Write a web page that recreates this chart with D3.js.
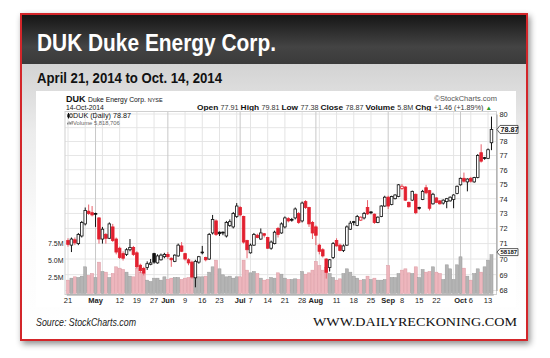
<!DOCTYPE html>
<html><head><meta charset="utf-8">
<script src="https://cdn.jsdelivr.net/npm/d3@7"></script>
<style>
html,body{margin:0;padding:0;background:#fff;}
svg{display:block;}
text{font-family:"Liberation Sans",Arial,sans-serif;}
</style></head>
<body>
<svg id="c" width="550" height="358"></svg>
<script>
// ---------- DATA ----------
const tradingDays = [
 "04-21","04-22","04-23","04-24","04-25","04-28","04-29","04-30",
 "05-01","05-02","05-05","05-06","05-07","05-08","05-09","05-12","05-13","05-14","05-15","05-16","05-19","05-20","05-21","05-22","05-23","05-27","05-28","05-29","05-30",
 "06-02","06-03","06-04","06-05","06-06","06-09","06-10","06-11","06-12","06-13","06-16","06-17","06-18","06-19","06-20","06-23","06-24","06-25","06-26","06-27","06-30",
 "07-01","07-02","07-03","07-07","07-08","07-09","07-10","07-11","07-14","07-15","07-16","07-17","07-18","07-21","07-22","07-23","07-24","07-25","07-28","07-29","07-30","07-31",
 "08-01","08-04","08-05","08-06","08-07","08-08","08-11","08-12","08-13","08-14","08-15","08-18","08-19","08-20","08-21","08-22","08-25","08-26","08-27","08-28","08-29",
 "09-02","09-03","09-04","09-05","09-08","09-09","09-10","09-11","09-12","09-15","09-16","09-17","09-18","09-19","09-22","09-23","09-24","09-25","09-26","09-29","09-30",
 "10-01","10-02","10-03","10-06","10-07","10-08","10-09","10-10","10-13","10-14"];
const opens = [71.20,70.90,71.25,71.00,71.50,72.30,73.15,73.05,73.00,72.70,71.30,71.60,71.35,72.10,71.30,70.70,70.35,70.30,70.60,70.75,70.40,69.60,69.40,69.45,69.66,70.35,69.75,69.95,70.15,
 70.30,70.05,69.85,70.20,70.85,70.35,69.95,69.80,68.80,69.80,70.45,70.10,70.00,71.70,72.50,71.75,71.75,71.50,72.20,72.10,72.80,
 73.40,72.80,71.20,70.40,70.90,71.55,71.30,71.65,71.40,70.70,71.00,72.00,71.70,72.10,72.65,72.60,72.70,73.00,72.50,73.80,73.40,72.40,
 72.10,70.90,70.60,70.00,69.45,70.10,71.20,70.90,70.55,70.90,71.95,72.45,72.20,72.55,72.70,73.40,73.10,72.95,72.40,72.80,73.50,
 74.10,73.60,74.00,74.15,74.70,74.80,73.75,73.90,74.30,73.40,73.95,74.75,74.55,73.65,74.05,73.85,73.70,73.80,73.85,73.95,74.35,
 74.95,75.40,75.15,75.40,75.15,75.45,77.20,76.85,76.80,77.91];
const highs = [71.35,71.40,71.40,71.70,72.50,73.40,73.60,73.50,73.05,72.75,72.10,71.70,72.40,72.30,71.40,70.80,70.50,70.70,71.30,70.85,70.50,69.70,69.50,69.85,70.00,70.40,70.30,70.35,70.40,
 70.45,70.10,70.30,71.00,71.10,70.40,70.05,69.90,69.95,70.20,70.85,70.15,71.70,72.90,72.60,71.80,71.80,72.50,72.60,73.10,73.70,
 73.50,72.85,71.25,71.00,71.70,71.65,72.00,71.70,71.45,71.20,71.85,72.10,72.40,72.80,72.75,72.70,73.40,73.10,73.80,73.90,73.45,72.50,
 72.20,71.00,70.70,70.05,70.00,71.10,71.35,71.00,70.95,72.20,72.50,72.50,72.90,72.80,73.10,73.90,73.15,73.00,72.80,73.55,74.20,
 74.20,74.20,74.30,75.00,75.00,74.85,73.80,74.55,74.35,73.45,74.60,74.95,74.60,74.40,74.10,73.90,73.95,74.05,74.15,74.30,74.90,
 75.45,75.80,75.40,75.50,75.50,77.10,77.80,76.90,77.50,79.81];
const lows = [70.80,70.45,70.90,70.90,71.40,72.20,72.90,72.80,72.10,71.00,71.00,71.00,71.30,71.10,70.30,70.00,69.90,70.20,70.50,70.20,69.40,69.10,68.95,69.30,69.60,69.70,69.70,69.90,70.05,
 70.00,69.50,69.80,70.15,70.45,69.90,69.60,68.75,68.20,69.70,70.30,69.85,69.95,71.60,71.50,71.50,71.55,71.40,72.10,72.00,72.70,
 72.80,71.00,70.05,70.35,70.85,71.35,71.25,71.40,70.65,70.60,70.95,71.40,71.65,72.00,72.40,72.45,72.60,72.30,72.40,73.30,72.10,71.30,
 70.90,70.30,70.10,68.75,69.20,70.00,70.80,70.50,70.45,70.85,71.90,72.20,72.15,72.50,72.60,72.90,72.95,72.30,72.35,72.75,73.45,
 73.30,73.55,73.95,74.10,74.60,73.85,73.40,73.85,72.95,73.25,73.90,74.30,73.20,73.60,73.70,73.60,73.60,73.35,73.80,73.35,74.30,
 74.90,75.10,74.50,75.10,75.10,75.40,76.50,76.70,76.75,77.38];
const closes = [70.95,71.30,71.05,71.60,72.40,73.20,73.00,72.90,72.95,71.30,71.95,71.35,72.30,71.20,70.45,70.10,70.05,70.60,70.75,70.30,69.50,69.25,69.10,69.70,69.75,69.80,70.20,70.25,70.30,
 70.15,69.95,70.25,70.90,70.50,70.00,69.75,68.85,69.85,70.15,70.40,69.95,71.60,72.60,71.60,71.65,71.70,72.40,72.45,73.00,73.50,
 72.90,71.10,70.60,70.90,71.60,71.40,71.70,71.55,70.70,71.10,71.75,71.60,72.30,72.70,72.50,72.55,73.30,72.40,73.70,73.40,72.30,71.70,
 71.55,70.50,70.20,69.15,69.95,71.00,70.85,70.55,70.85,72.10,72.35,72.40,72.80,72.75,73.00,72.97,73.05,72.40,72.75,73.50,74.10,
 73.50,74.15,74.25,74.95,74.85,73.90,73.45,74.50,73.05,73.35,74.50,74.40,73.35,74.30,73.75,73.65,73.90,74.00,74.10,74.25,74.85,
 75.40,75.20,75.35,75.20,75.45,77.00,76.60,76.80,77.41,78.87];
const volumes = [2.0,2.3,2.5,2.4,2.6,4.0,2.7,3.0,2.4,4.7,3.3,3.2,2.4,3.0,4.0,3.8,3.6,3.2,2.6,2.5,3.8,3.2,3.0,2.0,1.8,2.3,2.3,2.0,2.5,
 2.1,2.3,2.4,2.4,2.1,2.3,2.4,2.4,2.5,2.5,2.5,2.6,3.2,4.0,5.0,3.7,2.8,2.5,2.6,2.3,2.5,
 2.5,5.0,3.5,3.1,3.3,3.0,2.3,2.0,2.1,2.4,2.3,3.1,2.9,2.3,2.1,2.1,2.2,2.1,3.3,2.9,3.1,3.5,
 4.8,4.2,3.5,3.9,3.0,2.4,2.0,2.2,3.0,3.7,3.2,2.6,2.3,2.0,2.1,2.6,2.1,2.3,2.0,2.0,2.1,
 4.2,2.4,2.4,3.0,3.5,3.7,3.1,3.0,4.0,2.4,3.6,3.2,3.3,4.0,3.2,3.0,2.1,4.3,3.7,2.1,4.3,
 5.5,3.8,2.6,2.0,3.0,3.7,3.2,4.0,5.0,5.8187];
const prevClose = 71.10;
const priceGrid   = [68,69,70,71,72,73,74,75,76,77,78,79,80];
const priceLabels = [68,69,70,71,72,73,74,75,76,77,78,80];
const volumeTicks = [2.5,5.0,7.5];
const xTickDays   = ["04-21","05-01","05-12","05-19","05-27","06-02","06-09","06-16","06-23","07-01","07-07","07-14","07-21","07-28","08-01","08-11","08-18","08-25","09-02","09-08","09-15","09-22","10-01","10-06","10-13"];
const xTickLabels = ["21","May","12","19","27","Jun","9","16","23","Jul","7","14","21","28","Aug","11","18","25","Sep","8","15","22","Oct","6","13"];
const monthStarts = ["05-01","06-02","07-01","08-01","09-02","10-01"];
const weekStarts  = ["04-21","04-28","05-05","05-12","05-19","05-27","06-09","06-16","06-23","06-30","07-07","07-14","07-21","07-28","08-04","08-11","08-18","08-25","09-08","09-15","09-22","09-29","10-06","10-13"];
const lastClose = "78.87", lastVolLabel = "58187";

// ---------- DRAW ----------
const svg = d3.select("#c");
const defs = svg.append("defs");
const f = defs.append("filter").attr("id","sh").attr("x","-5%").attr("y","-5%").attr("width","112%").attr("height","115%");
f.append("feDropShadow").attr("dx",2).attr("dy",3).attr("stdDeviation",3).attr("flood-color","#000").attr("flood-opacity",0.45);
const hg = defs.append("linearGradient").attr("id","hg").attr("x1",0).attr("y1",0).attr("x2",0).attr("y2",1);
[["0%","#161616"],["65%","#444"],["100%","#3a3a3a"]].forEach(s=>hg.append("stop").attr("offset",s[0]).attr("stop-color",s[1]));
const bg = defs.append("linearGradient").attr("id","bg").attr("x1",0).attr("y1",0).attr("x2",0).attr("y2",1);
[["0%","#d3d3d3"],["25%","#ececec"],["60%","#fbfbfb"],["100%","#ffffff"]].forEach(s=>bg.append("stop").attr("offset",s[0]).attr("stop-color",s[1]));
defs.append("clipPath").attr("id","plotclip").append("rect").attr("x",65).attr("y",111.5).attr("width",431.5).attr("height",183);

// card
svg.append("rect").attr("x",21).attr("y",14).attr("width",506).attr("height",326)
  .attr("fill","#fff").attr("stroke","#d3262c").attr("stroke-width",2).attr("filter","url(#sh)");
svg.append("rect").attr("x",22).attr("y",15).attr("width",504).attr("height",49).attr("fill","url(#hg)");
svg.append("rect").attr("x",22).attr("y",64).attr("width",504).attr("height",275).attr("fill","url(#bg)");
svg.append("text").attr("x",37).attr("y",51).attr("fill","#fff").attr("font-size",24).attr("font-weight","bold")
  .attr("textLength",239).attr("lengthAdjust","spacingAndGlyphs").text("DUK Duke Energy Corp.");
svg.append("text").attr("x",37).attr("y",83).attr("fill","#111").attr("font-size",15).attr("font-weight","bold")
  .attr("textLength",185).attr("lengthAdjust","spacingAndGlyphs").text("April 21, 2014 to Oct. 14, 2014");

// chart panel
svg.append("rect").attr("x",36).attr("y",91).attr("width",480).attr("height",216).attr("fill","#fff");

// scales
const x = d3.scaleBand().domain(tradingDays).range([66.28, 493.2]);
const cx = d => x(d) + x.bandwidth()/2;
const y = d3.scaleLog().domain([68,80]).range([290.5,114]);
const yv = d3.scaleLinear().domain([0,7.5]).range([293.5,243.5]);

// header rows
const h1 = svg.append("text").attr("x",66).attr("y",101.5).attr("fill","#111");
h1.append("tspan").attr("font-size",9).attr("font-weight","bold").text("DUK ");
h1.append("tspan").attr("font-size",6.8).text("Duke Energy Corp. ");
h1.append("tspan").attr("font-size",5.5).text("NYSE");
svg.append("text").attr("x",497).attr("y",100.5).attr("text-anchor","end").attr("fill","#555").attr("font-size",7.5).text("\u00A9StockCharts.com");
svg.append("text").attr("x",66).attr("y",109.5).attr("fill","#111").attr("font-size",6.8).text("14-Oct-2014");
const row = [["Open ","77.91 "],["High ","79.81 "],["Low ","77.38 "],["Close ","78.87 "],["Volume ","5.8M "],["Chg ","+1.46 (+1.89%) "]];
const h2 = svg.append("text").attr("x",197).attr("y",110).attr("fill","#111")
  .attr("textLength",295).attr("lengthAdjust","spacingAndGlyphs");
row.forEach(r=>{
  h2.append("tspan").attr("font-size",7.6).attr("font-weight","bold").text(r[0]);
  h2.append("tspan").attr("font-size",6.6).attr("fill","#333").text(r[1]);
});
h2.append("tspan").attr("font-size",6).attr("fill","#2a9a2a").text("\u25B2");

// grid
const grid = svg.append("g");
grid.selectAll(".hg").data(priceGrid).join("line")
  .attr("x1",65).attr("x2",496.5).attr("y1",d=>y(d)).attr("y2",d=>y(d))
  .attr("stroke","#e6e6e6").attr("stroke-width",1);
grid.selectAll(".vw").data(weekStarts).join("line")
  .attr("x1",d=>cx(d)).attr("x2",d=>cx(d)).attr("y1",111.5).attr("y2",294.5)
  .attr("stroke","#e4e4e4").attr("stroke-width",1);
grid.selectAll(".vm").data(monthStarts).join("line")
  .attr("x1",d=>cx(d)).attr("x2",d=>cx(d)).attr("y1",111.5).attr("y2",294.5)
  .attr("stroke","#c8c8c8").attr("stroke-width",1);

// plot frame
svg.append("rect").attr("x",65).attr("y",111.5).attr("width",431.5).attr("height",183)
  .attr("fill","none").attr("stroke","#d0d0d0").attr("stroke-width",1);

const data = tradingDays.map((d,i)=>({d, o:opens[i], h:highs[i], l:lows[i], c:closes[i], v:volumes[i],
  up: closes[i] >= (i===0 ? prevClose : closes[i-1])}));

const plot = svg.append("g").attr("clip-path","url(#plotclip)");
// volume
const bw = x.step();
plot.selectAll(".vol").data(data).join("rect")
  .attr("x",d=>cx(d.d)-bw/2+0.2).attr("width",bw-0.4)
  .attr("y",d=>yv(d.v)).attr("height",d=>yv(0)-yv(d.v))
  .attr("fill",d=>d.up?"#b4b4b4":"#edb6bd")
  .attr("stroke",d=>d.up?"#9a9a9a":"#dc98a1").attr("stroke-width",0.5);
// candles
const red = "#e2202f";
const cg = plot.selectAll(".cdl").data(data).join("g");
cg.append("line").attr("x1",d=>cx(d.d)).attr("x2",d=>cx(d.d))
  .attr("y1",d=>y(d.h)).attr("y2",d=>y(d.l))
  .attr("stroke",d=>d.up?"#111":"#e8606b").attr("stroke-width",1);
cg.append("rect").attr("x",d=>cx(d.d)-1.3).attr("width",2.6)
  .attr("y",d=>y(Math.max(d.o,d.c))).attr("height",d=>Math.max(0.8,Math.abs(y(d.o)-y(d.c))))
  .attr("fill",d=>d.c>d.o?"#fff":(d.up?"#111":red))
  .attr("stroke",d=>d.up?"#111":red).attr("stroke-width",0.8);

// legend
const lg = svg.append("g");
lg.append("line").attr("x1",68.5).attr("x2",68.5).attr("y1",113).attr("y2",118.5).attr("stroke","#111");
lg.append("rect").attr("x",67.3).attr("y",114.3).attr("width",2.4).attr("height",3).attr("fill","#111");
lg.append("line").attr("x1",71).attr("x2",71).attr("y1",113.3).attr("y2",118).attr("stroke","#111");
lg.append("rect").attr("x",69.8).attr("y",114.1).attr("width",2.4).attr("height",3).attr("fill","#fff").attr("stroke","#111").attr("stroke-width",0.6);
lg.append("text").attr("x",73).attr("y",118.2).attr("font-size",7.2).attr("fill","#111").text("DUK (Daily) 78.87");
[[67,1.8],[68.5,3],[70,2.2],[71.5,3.5]].forEach(b=>lg.append("rect").attr("x",b[0]).attr("y",124.5-b[1]).attr("width",1.2).attr("height",b[1]).attr("fill","#888"));
lg.append("text").attr("x",73).attr("y",124.8).attr("font-size",5.8).attr("fill","#666").text("Volume 5,818,706");

// axes
const ax = svg.append("g").attr("transform","translate(496.5,0)")
  .call(d3.axisRight(y).tickValues(priceLabels).tickFormat(d3.format("d")).tickSize(0).tickPadding(3));
ax.select(".domain").attr("stroke","#9a9a9a");
ax.selectAll("text").attr("font-size",7.4).attr("fill","#222").attr("font-family","Liberation Sans, Arial, sans-serif");

const av = svg.append("g").attr("transform","translate(64.5,0)")
  .call(d3.axisLeft(yv).tickValues(volumeTicks).tickFormat(d=>d.toFixed(1)+"M").tickSize(0).tickPadding(1));
av.select(".domain").remove();
av.selectAll("text").attr("font-size",7).attr("fill","#222").attr("font-family","Liberation Sans, Arial, sans-serif");

const lab = new Map(xTickDays.map((d,i)=>[d,xTickLabels[i]]));
const axb = svg.append("g").attr("transform","translate(0,294.5)")
  .call(d3.axisBottom(x).tickValues(xTickDays).tickFormat(d=>lab.get(d)).tickSize(0).tickPadding(3));
axb.select(".domain").attr("stroke","#9a9a9a");
axb.selectAll("text").attr("font-size",7.5).attr("fill","#222").attr("font-family","Liberation Sans, Arial, sans-serif")
  .attr("font-weight",d=>monthStarts.includes(d)?"bold":"normal");

// value boxes
function valBox(yc, txt, fs, hh){
  const g = svg.append("g");
  g.append("path").attr("d",`M497,${yc} L500,${yc-hh} L518,${yc-hh} L518,${yc+hh} L500,${yc+hh} Z`)
    .attr("fill","#fff").attr("stroke","#333").attr("stroke-width",0.8);
  g.append("text").attr("x",500.5).attr("y",yc+fs*0.36).attr("font-size",fs).attr("font-weight","bold").attr("fill","#111").text(txt);
}
valBox(y(closes[closes.length-1]), lastClose, 7.2, 4);
valBox(yv(volumes[volumes.length-1]) - 2.6, lastVolLabel, 6, 3.5);

// footer
svg.append("text").attr("x",36).attr("y",326).attr("font-size",10).attr("font-style","italic").attr("fill","#222")
  .attr("textLength",100).attr("lengthAdjust","spacingAndGlyphs").text("Source: StockCharts.com");
svg.append("text").attr("x",313).attr("y",326).attr("font-size",13.5).attr("fill","#111")
  .style("font-family","'Liberation Serif','DejaVu Serif',serif")
  .attr("textLength",204).attr("lengthAdjust","spacingAndGlyphs").text("WWW.DAILYRECKONING.COM");
</script>
</body></html>
